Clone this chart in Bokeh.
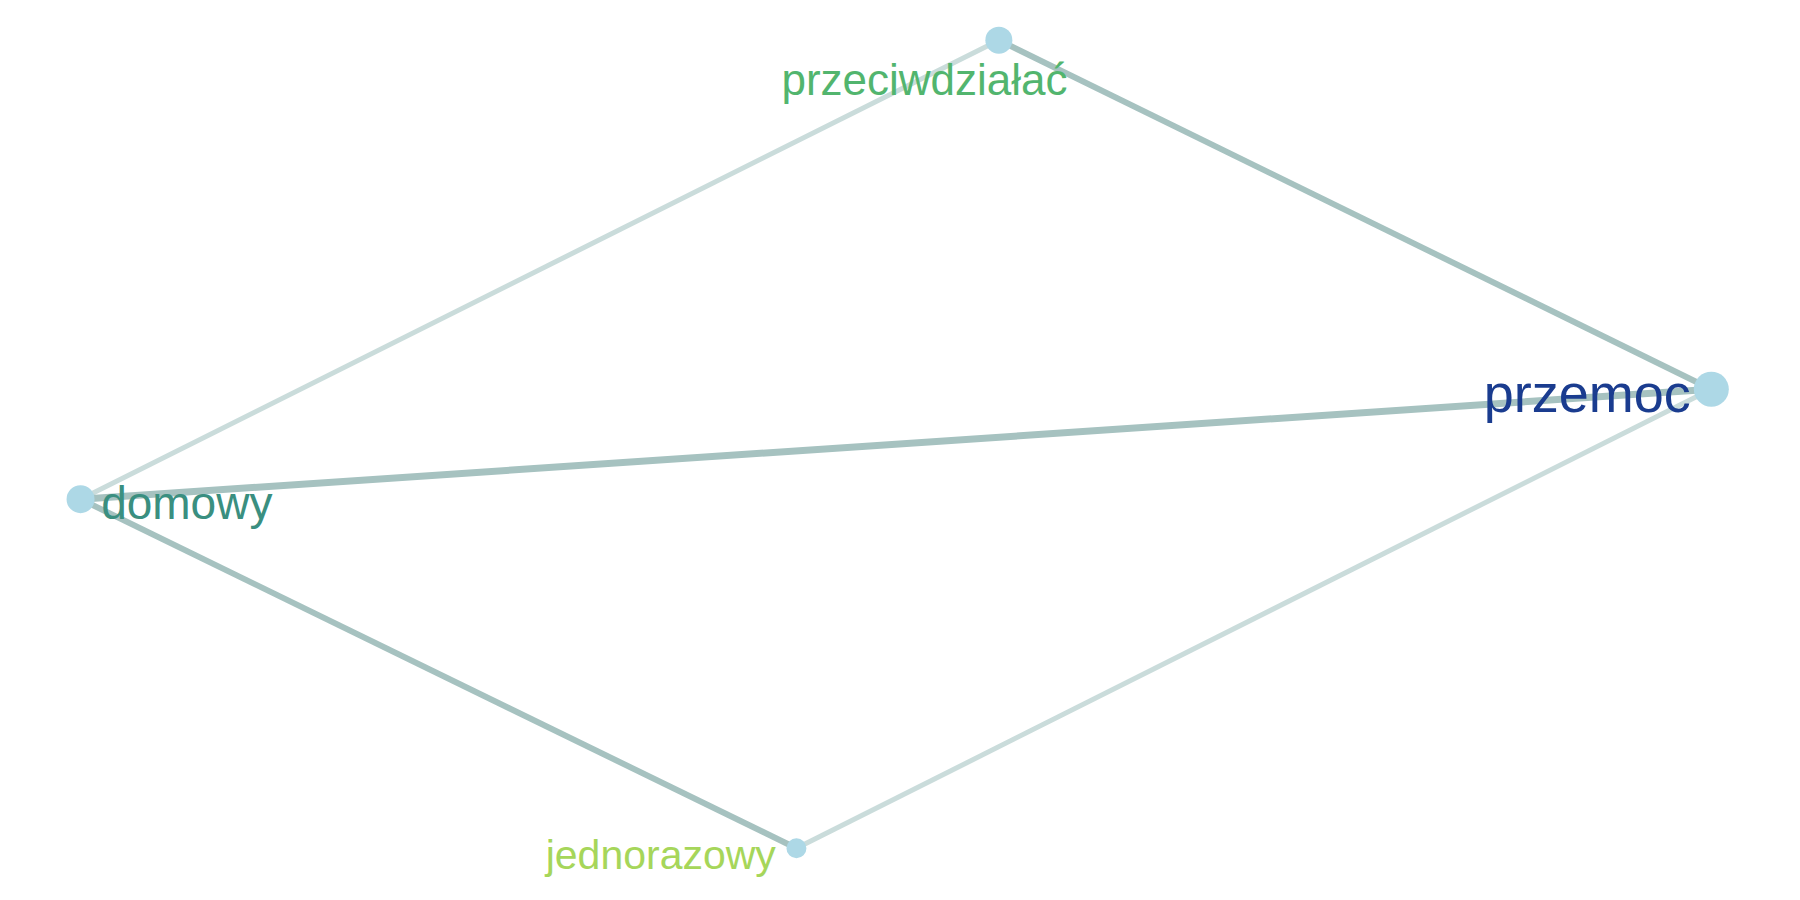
from bokeh.plotting import figure
from bokeh.models import Range1d
from bokeh.core.properties import value
from bokeh.embed import file_html
from bokeh.resources import INLINE

# Network layout (layout units)
nodes = ["przeciwdziałać", "przemoc", "domowy", "jednorazowy"]
node_x = [873, 1496, 70, 696]
node_y = [35, 343, 440, 748]
node_size = [27, 35, 28, 20]
label_color = ["#52b56e", "#1a3c8f", "#3a8f80", "#a6d65a"]
label_size = ["44px", "54px", "46px", "41px"]
label_x = [808, 1478, 88, 678]
label_y = [70, 346, 443, 754]
label_align = ["center", "right", "left", "right"]

edge_from = ["przeciwdziałać", "przeciwdziałać", "domowy", "domowy", "jednorazowy"]
edge_to = ["przemoc", "domowy", "przemoc", "jednorazowy", "przemoc"]
edge_weight = [6, 5, 7, 6, 5]
edge_color = ["#a6c2c0", "#cadcdb", "#a6c2c0", "#a6c2c0", "#cadcdb"]

W, H = 1560, 780
p = figure(width=1784, height=884, output_backend="svg", toolbar_location=None,
           x_range=Range1d(0, W), y_range=Range1d(H, 0), min_border=0)
p.axis.visible = False
p.grid.visible = False
p.outline_line_color = None

idx = {n: i for i, n in enumerate(nodes)}
xs = [[node_x[idx[a]], node_x[idx[b]]] for a, b in zip(edge_from, edge_to)]
ys = [[node_y[idx[a]], node_y[idx[b]]] for a, b in zip(edge_from, edge_to)]
p.multi_line(xs=xs, ys=ys, line_width=edge_weight, line_color=edge_color)

p.scatter(node_x, node_y, size=node_size, fill_color="#add8e6", line_color=None)

for i in range(len(nodes)):
    p.text([label_x[i]], [label_y[i]], text=[nodes[i]], text_color=label_color[i],
           text_font=value("Liberation Sans"), text_font_size=label_size[i],
           text_align=label_align[i], text_baseline="middle")

open("out.html", "w").write(file_html(p, INLINE))
